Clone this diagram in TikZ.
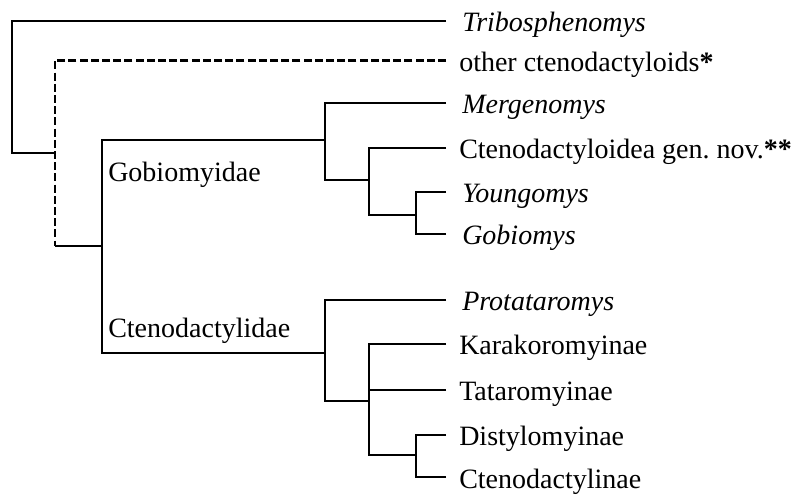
\documentclass[tikz,border=0pt]{standalone}
\usepackage{fontspec}
\setmainfont{Liberation Serif}
\usetikzlibrary{calc}
\begin{document}
\frenchspacing
\begin{tikzpicture}[x=0.75pt,y=-0.75pt,
  br/.style={line width=1.4pt,line join=miter},
  dsh/.style={line width=2.2pt,dash pattern=on 6pt off 2.4pt},
  leaf/.style={anchor=base west,inner sep=0pt,font=\fontsize{21}{25}\selectfont},
  clade/.style={anchor=base west,inner sep=0pt,font=\fontsize{21}{25}\selectfont}]
\useasboundingbox (0,3) rectangle (800,498);
% leaf line ends
\coordinate (tri-e) at (446,24);
\coordinate (oth-e) at (446,63.5);
\coordinate (mer-e) at (446,106);
\coordinate (cgn-e) at (446,151);
\coordinate (you-e) at (446,195);
\coordinate (gbm-e) at (446,237);
\coordinate (pro-e) at (446,303);
\coordinate (kar-e) at (446,347);
\coordinate (tat-e) at (446,393);
\coordinate (dis-e) at (446,438);
\coordinate (cte-e) at (446,480);
% internal nodes
\coordinate (A) at (12,156);
\coordinate (Bj) at (55,156);
\coordinate (B) at (55,249);
\coordinate (C) at (102,249);
\coordinate (D) at (325,143);
\coordinate (E) at (369,183);
\coordinate (F) at (416,218);
\coordinate (G) at (325,356);
\coordinate (H) at (369,404);
\coordinate (I) at (416,458);
% labels
\node[leaf] (tri) at ($(tri-e)+(16,11)$) {\textit{Tribosphenomys}};
\node[leaf] (oth) at ($(oth-e)+(13,11)$) {other ctenodactyloids\textbf{*}};
\node[leaf] (mer) at ($(mer-e)+(16,11)$) {\textit{Mergenomys}};
\node[leaf] (cgn) at ($(cgn-e)+(13,11)$) {Ctenodactyloidea gen. nov.\textbf{**}};
\node[leaf] (you) at ($(you-e)+(16,11)$) {\textit{Youngomys}};
\node[leaf] (gbm) at ($(gbm-e)+(16,11)$) {\textit{Gobiomys}};
\node[leaf] (pro) at ($(pro-e)+(16,11)$) {\textit{Protataromys}};
\node[leaf] (kar) at ($(kar-e)+(13,11)$) {Karakoromyinae};
\node[leaf] (tat) at ($(tat-e)+(13,11)$) {Tataromyinae};
\node[leaf] (dis) at ($(dis-e)+(13,11)$) {Distylomyinae};
\node[leaf] (cte) at ($(cte-e)+(13,11)$) {Ctenodactylinae};
\node[clade] (gobfam) at (108,185) {Gobiomyidae};
\node[clade] (ctefam) at (108,341) {Ctenodactylidae};
% branches
\draw[br] (tri-e) -| (A) -- (Bj);
\draw[dsh] (oth-e) -| (B);
\draw[br] (B) -- (C);
\draw[br] (D) -| (C) |- (G);
\draw[br] (mer-e) -| (D) |- (E);
\draw[br] (cgn-e) -| (E) |- (F);
\draw[br] (you-e) -| (F);
\draw[br] (gbm-e) -| (F);
\draw[br] (pro-e) -| (G) |- (H);
\draw[br] (kar-e) -| (H) |- (I);
\draw[br] (tat-e) -| (H);
\draw[br] (dis-e) -| (I);
\draw[br] (cte-e) -| (I);
\end{tikzpicture}
\end{document}
